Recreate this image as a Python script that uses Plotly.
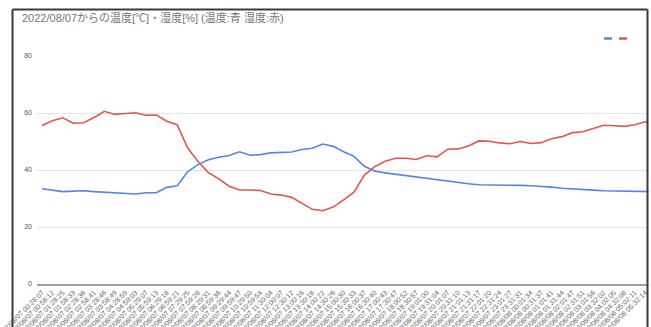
import plotly.graph_objects as go

times_0807 = ["00:28:07", "00:58:12", "01:28:25", "01:58:33", "02:28:36", "02:58:41",
              "03:28:46", "03:58:49", "04:28:59", "04:59:03", "05:29:07", "05:59:13",
              "06:29:18", "06:59:21", "07:29:25", "07:59:28", "08:29:31", "08:59:36",
              "09:29:44", "09:59:47", "10:29:50", "10:59:54", "11:30:04", "12:00:07",
              "12:30:12", "13:00:16", "13:30:18", "14:00:22", "14:30:26", "15:00:30",
              "15:30:33", "16:00:37", "16:30:40", "17:00:43", "17:30:47", "18:00:52",
              "18:30:57", "19:01:00", "19:31:04", "20:01:07", "20:31:10", "21:01:13",
              "21:31:17", "22:01:20", "22:31:24", "23:01:27", "23:31:31"]
times_0808 = ["00:01:34", "00:31:37", "01:01:41", "01:31:44", "02:01:47", "02:31:51",
              "03:01:56", "03:32:02", "04:02:05", "04:32:08", "05:02:11", "05:32:14",
              "06:02:17"]
labels = ["2022/08/07 " + t for t in times_0807] + ["2022/08/08 " + t for t in times_0808]

temperature = [33.4, 32.9, 32.4, 32.6, 32.7, 32.4, 32.2, 32.1, 31.9, 31.6,
               32.0, 32.0, 33.9, 34.5, 39.4, 41.9, 43.6, 44.5, 45.1, 46.4,
               45.2, 45.4, 46.0, 46.1, 46.3, 47.2, 47.6, 49.1, 48.3, 46.4,
               44.8, 41.3, 39.6, 39.0, 38.5, 38.1, 37.6, 37.1, 36.7, 36.0,
               35.5, 35.2, 34.8, 34.8, 34.75, 34.7, 34.6, 34.5, 34.3, 34.0,
               33.6, 33.3, 33.1, 32.95, 32.7, 32.6, 32.5, 32.45, 32.4, 32.4]

humidity = [55.6, 57.3, 58.3, 56.4, 56.6, 58.4, 60.6, 59.5, 59.8, 60.1,
            59.2, 59.3, 57.1, 55.9, 47.8, 43.0, 39.1, 36.9, 34.3, 33.0,
            33.0, 32.8, 31.6, 31.2, 30.4, 28.4, 26.2, 25.7, 27.0, 29.5,
            32.2, 38.2, 41.2, 43.1, 44.1, 44.1, 43.7, 45.0, 44.6, 47.3,
            47.4, 48.4, 50.2, 50.1, 49.5, 49.2, 50.0, 49.3, 49.6, 51.0,
            51.7, 53.1, 53.4, 54.6, 55.7, 55.5, 55.3, 55.9, 56.9, 56.4]

y_ticks = [0, 20, 40, 60, 80]
title_text = "2022/08/07からの温度[℃]・湿度[%] (温度:青 湿度:赤)"

BLUE = "#5087ea"
RED = "#e8544b"

W, H = 651, 327
ML, MR, MT, MB = 37, 0, 56, 43

fig = go.Figure()
fig.add_trace(go.Scatter(x=labels, y=temperature, mode="lines", name="温度",
                         line=dict(color=BLUE, width=1.6), showlegend=False))
fig.add_trace(go.Scatter(x=labels, y=humidity, mode="lines", name="湿度",
                         line=dict(color=RED, width=1.6), showlegend=False))

def px_x(px):
    return (px - ML) / (W - ML - MR)

def px_y(py):
    return (H - MB - py) / (H - MT - MB)

shapes = [
    # container border like in the screenshot
    dict(type="line", xref="paper", yref="paper", x0=px_x(12.5), x1=px_x(12.5),
         y0=px_y(9.5), y1=px_y(330), line=dict(color="#3a3a3a", width=2)),
    dict(type="line", xref="paper", yref="paper", x0=px_x(12.5), x1=px_x(647.5),
         y0=px_y(9.5), y1=px_y(9.5), line=dict(color="#3a3a3a", width=2)),
    dict(type="rect", xref="paper", yref="paper", x0=px_x(648.5), x1=px_x(655),
         y0=px_y(0), y1=px_y(330), fillcolor="white", line=dict(width=0),
         layer="above"),
    dict(type="line", xref="paper", yref="paper", x0=px_x(647.5), x1=px_x(647.5),
         y0=px_y(9.5), y1=px_y(330), line=dict(color="#3a3a3a", width=2),
         layer="above"),
    # legend keys (the reference legend has no text)
    dict(type="line", xref="paper", yref="paper", x0=px_x(604), x1=px_x(612),
         y0=px_y(38.5), y1=px_y(38.5), line=dict(color=BLUE, width=2.5)),
    dict(type="line", xref="paper", yref="paper", x0=px_x(619), x1=px_x(627),
         y0=px_y(38.5), y1=px_y(38.5), line=dict(color=RED, width=2.5)),
]

fig.update_layout(
    width=W, height=H,
    margin=dict(l=ML, r=MR, t=MT, b=MB, pad=0, autoexpand=False),
    paper_bgcolor="white", plot_bgcolor="white",
    font=dict(family="Liberation Sans, Arial, Noto Sans CJK JP", color="#555555"),
    title=dict(text=title_text, x=22 / W, xanchor="left", xref="container",
               y=1 - 18.5 / H, yanchor="middle",
               font=dict(size=11, color="#757575",
                         family="Liberation Sans, Arial, Noto Sans CJK JP")),
    showlegend=False,
    xaxis=dict(type="category", range=[-0.48, 58.56], tickmode="array",
               tickvals=labels, ticktext=labels, tickangle=-45,
               tickfont=dict(size=7, color="#666666"), automargin=False,
               showgrid=False, showline=True, linecolor="#a0a0a0", linewidth=1.5,
               ticks="", zeroline=False),
    yaxis=dict(range=[0, 80], tickvals=y_ticks, showgrid=True, gridcolor="#e4e4e4",
               gridwidth=1, zeroline=False, showline=False, ticks="", automargin=False,
               tickfont=dict(size=7, color="#555555"), ticklabelstandoff=4),
    shapes=shapes,
)

fig.write_html("out.html")
